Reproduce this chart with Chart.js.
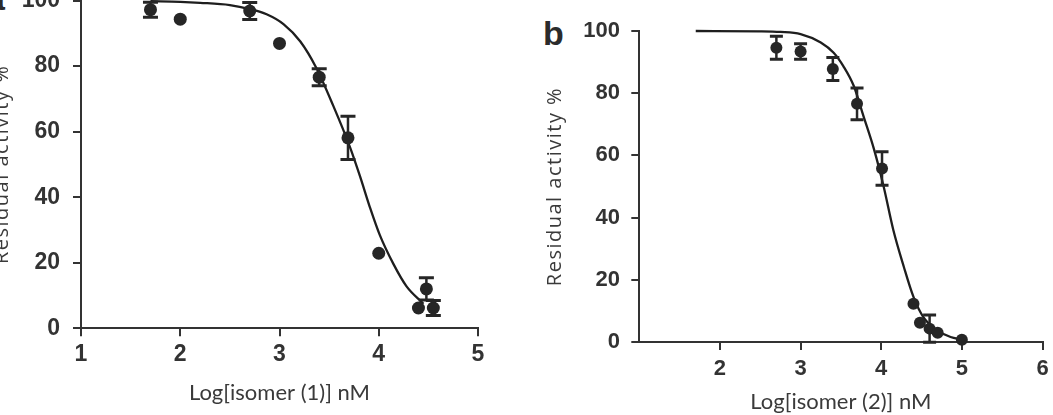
<!DOCTYPE html>
<html>
<head>
<meta charset="utf-8">
<script src="https://cdn.jsdelivr.net/npm/chart.js@4/dist/chart.umd.min.js"></script>
<style>
  html, body { margin: 0; padding: 0; background: #fff; }
  body { width: 1053px; height: 415px; overflow: hidden; position: relative; }
  canvas { position: absolute; }
  #cA { left: -40px; top: -40px; }
  #cB { left: 500px; top: 0px; }
  .panel { position: absolute; font-family: "Liberation Sans", Arial, sans-serif; font-weight: bold;
           font-size: 34px; line-height: 34px; color: #2b2b2b; }
  #labA { left: -14px; top: -19px; }
  #labB { left: 543px; top: 16px; }
</style>
</head>
<body>
<div class="panel" id="labA">a</div>
<div class="panel" id="labB">b</div>
<canvas id="cA" width="540" height="455"></canvas>
<canvas id="cB" width="580" height="415"></canvas>
<script>
// ---------- Panel a: isomer (1) ----------
const isomer1LogConc  = [1.70, 2.00, 2.70, 3.00, 3.40, 3.69, 4.00, 4.40, 4.48, 4.55];
const isomer1Activity = [97.2, 94.3, 96.8, 86.9, 76.6, 58.1, 22.9, 6.2, 12.0, 6.2];
const isomer1Error    = [2.3, 0, 2.6, 0, 2.6, 6.6, 0, 0, 3.4, 2.3];
const isomer1FitX = [1.70, 2.00, 2.20, 2.50, 2.70, 2.87, 3.04, 3.21, 3.37, 3.54, 3.71, 3.81, 3.91, 4.01, 4.15, 4.28, 4.45];
const isomer1FitY = [99.8, 99.6, 99.3, 98.6, 97.4, 95.8, 92.8, 87.5, 79.5, 68.0, 55.3, 46.5, 37.0, 28.5, 19.5, 12.8, 7.5];
const isomer1XTicks = [1, 2, 3, 4, 5];

// ---------- Panel b: isomer (2) ----------
const isomer2LogConc  = [2.70, 3.00, 3.40, 3.70, 4.01, 4.40, 4.48, 4.60, 4.70, 5.00];
const isomer2Activity = [94.6, 93.4, 87.8, 76.6, 55.8, 12.3, 6.2, 4.3, 3.0, 0.7];
const isomer2Error    = [3.7, 2.5, 3.7, 5.1, 5.4, 0, 0, 4.4, 0, 0];
const isomer2FitX = [1.70, 2.50, 2.75, 3.00, 3.25, 3.41, 3.53, 3.66, 3.78, 3.91, 4.03, 4.15, 4.28, 4.40, 4.52, 4.69, 4.86, 5.00];
const isomer2FitY = [100, 99.9, 99.7, 99.0, 96.3, 93.0, 88.7, 82.3, 72.6, 62.0, 50.0, 36.0, 24.2, 14.5, 8.1, 3.8, 1.6, 0.8];
const isomer2XTicks = [2, 3, 4, 5, 6];

const yTicks = [0, 20, 40, 60, 80, 100];
const yTitle = 'Residual activity %';

const INK = '#262626';
const TEXT = '#333333';
const TITLE = '#3a3a3a';

const errorBarPlugin = {
  id: 'errorBars',
  beforeDatasetDraw(chart, args) {
    const ds = chart.data.datasets[args.index];
    if (!ds.errors) return;
    const ctx = chart.ctx;
    const y = chart.scales.y;
    ctx.save();
    ctx.strokeStyle = INK;
    args.meta.data.forEach((pt, i) => {
      const e = ds.errors[i];
      if (!e) return;
      const v = ds.data[i].y;
      const yt = y.getPixelForValue(v + e);
      const yb = y.getPixelForValue(v - e);
      const x = pt.x;
      ctx.lineWidth = 2.5;
      ctx.beginPath(); ctx.moveTo(x, yt); ctx.lineTo(x, yb); ctx.stroke();
      ctx.lineWidth = 3;
      const hw = ds.capHalf || 7;
      ctx.beginPath();
      ctx.moveTo(x - hw, yt); ctx.lineTo(x + hw, yt);
      ctx.moveTo(x - hw, yb); ctx.lineTo(x + hw, yb);
      ctx.stroke();
    });
    ctx.restore();
  }
};

// letter-spaced y-axis title (the reference title is tracked out)
const spacedTitlePlugin = {
  id: 'spacedTitle',
  beforeDraw(chart) {
    const s = chart.scales.y;
    if (s._spacedPatched) return;
    const orig = s.drawTitle;
    s.drawTitle = function () {
      const ctx = this.ctx;
      ctx.save();
      ctx.letterSpacing = '1.5px';
      orig.call(this);
      ctx.restore();
    };
    s._spacedPatched = true;
  }
};

function pts(xs, ys) { return xs.map((x, i) => ({ x: x, y: ys[i] })); }

function makeChart(id, cfg) {
  const tickFont = { family: '"Liberation Sans", Arial, sans-serif', size: cfg.tickSize, weight: 'bold' };
  return new Chart(document.getElementById(id), {
    type: 'scatter',
    data: {
      datasets: [
        {
          data: pts(cfg.xs, cfg.ys),
          errors: cfg.errs,
          capHalf: cfg.capHalf,
          pointRadius: cfg.r,
          pointBackgroundColor: INK,
          pointBorderColor: INK,
          pointBorderWidth: 0,
          showLine: false,
          clip: false
        },
        {
          data: pts(cfg.fx, cfg.fy),
          showLine: true,
          pointRadius: 0,
          borderColor: '#1e1e1e',
          borderWidth: 2.3,
          cubicInterpolationMode: 'monotone',
          clip: false
        }
      ]
    },
    options: {
      responsive: false,
      animation: false,
      events: [],
      layout: { padding: cfg.pad },
      plugins: { legend: { display: false }, tooltip: { enabled: false } },
      scales: {
        x: {
          type: 'linear',
          min: cfg.xmin, max: cfg.xmax,
          afterBuildTicks: s => { s.ticks = cfg.xTicks.map(v => ({ value: v })); },
          ticks: { color: TEXT, font: tickFont, padding: cfg.xTickPad, maxRotation: 0, autoSkip: false },
          grid: { drawOnChartArea: false, drawTicks: true, tickLength: 8, color: TEXT, lineWidth: 2 },
          border: { display: true, color: TEXT, width: 2 },
          title: { display: true, text: cfg.xTitle, color: TITLE,
                   font: { family: 'Lato, "Open Sans", sans-serif', size: 22 },
                   padding: { top: 0, bottom: cfg.xTitlePad } },
          afterFit: s => { s.height = cfg.xH; }
        },
        y: {
          type: 'linear',
          min: 0, max: 100,
          afterBuildTicks: s => { s.ticks = yTicks.map(v => ({ value: v })); },
          ticks: { color: TEXT, font: tickFont, padding: cfg.yTickPad },
          grid: { drawOnChartArea: false, drawTicks: true, tickLength: 8, color: TEXT, lineWidth: 2 },
          border: { display: true, color: TEXT, width: 2 },
          title: { display: true, text: yTitle, color: TITLE,
                   font: { family: '"Open Sans", sans-serif', size: 20 },
                   padding: { top: cfg.yTitlePad, bottom: 0 } },
          afterFit: s => { s.width = cfg.yW; }
        }
      }
    },
    plugins: [errorBarPlugin, spacedTitlePlugin]
  });
}

makeChart('cA', {
  xs: isomer1LogConc, ys: isomer1Activity, errs: isomer1Error,
  fx: isomer1FitX, fy: isomer1FitY, xTicks: isomer1XTicks,
  xmin: 1, xmax: 5, r: 6.5, capHalf: 7.5, tickSize: 23,
  pad: { top: 40.5, left: 0, right: 22, bottom: 0 },
  yW: 121, xH: 86.7, yTickPad: 13, xTickPad: 5, xTitlePad: 8.8, yTitlePad: 30,
  xTitle: 'Log[isomer (1)] nM'
});

makeChart('cB', {
  xs: isomer2LogConc, ys: isomer2Activity, errs: isomer2Error,
  fx: isomer2FitX, fy: isomer2FitY, xTicks: isomer2XTicks,
  xmin: 1, xmax: 6, r: 6, capHalf: 6.5, tickSize: 22,
  pad: { top: 31, left: 0, right: 37.5, bottom: 0 },
  yW: 139.3, xH: 73, yTickPad: 11.3, xTickPad: 5.8, xTitlePad: 0, yTitlePad: 43,
  xTitle: 'Log[isomer (2)] nM'
});
</script>
</body>
</html>
